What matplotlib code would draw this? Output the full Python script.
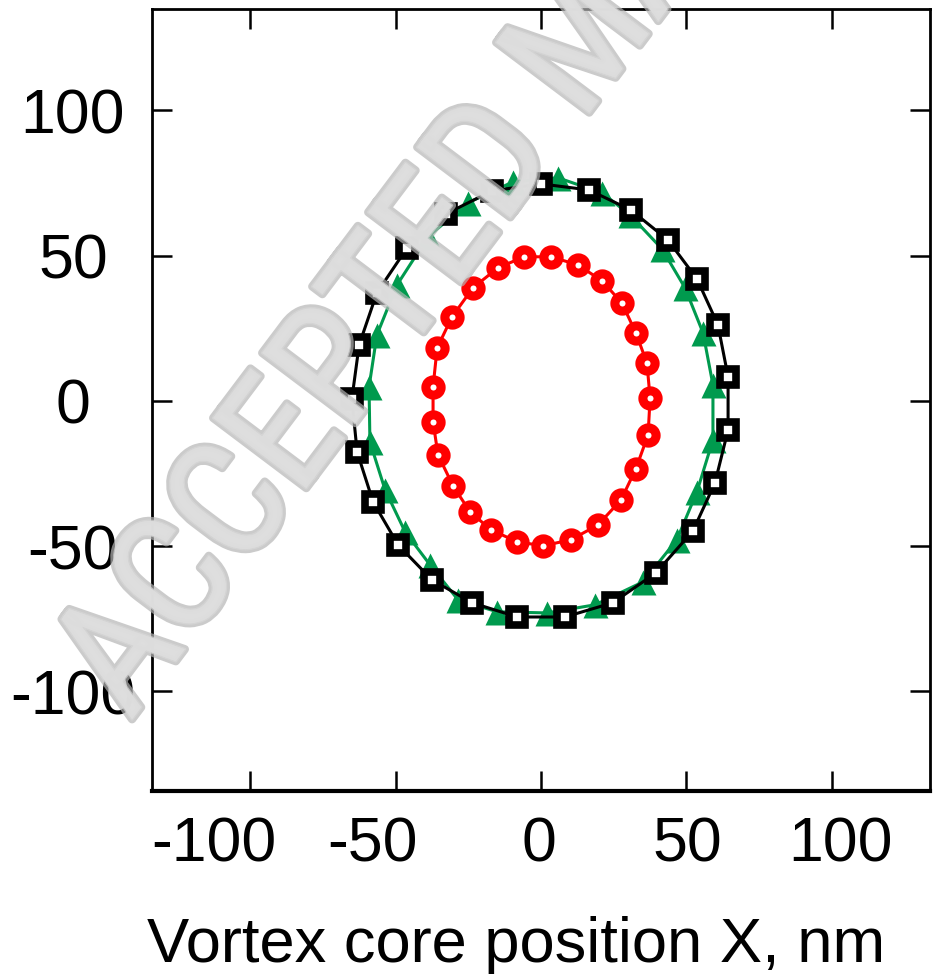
import matplotlib
matplotlib.use("Agg")
import matplotlib.pyplot as plt
import matplotlib.patheffects as pe
from matplotlib.transforms import ScaledTranslation

plt.rcParams['font.family'] = ['Liberation Sans', 'DejaVu Sans']
plt.rcParams['axes.unicode_minus'] = False

# Black squares
black_x = [0, 16.5, 30.9, 43.6, 53.6, 60.8, 64.3, 64.3, 59.8, 52.2, 39.5, 24.7, 8.2,
           -8.2, -23.7, -37.5, -49.1, -57.7, -63.2, -65.0, -62.5, -56.4, -46.0, -32.6, -16.8]
black_y = [74.7, 72.6, 65.7, 55.4, 42.0, 26.2, 8.3, -10.0, -28.2, -44.8, -59.2, -69.5, -74.4,
           -74.4, -69.5, -61.6, -49.6, -34.8, -17.6, 0.7, 19.3, 37.2, 52.7, 64.4, 72.3]

# Green triangles
green_x = [5.8, 21.0, 30.6, 41.6, 49.5, 55.7, 59.1, 59.1, 53.6, 46.7, 35.1, 18.6, 2.1,
           -15.1, -28.5, -38.1, -46.7, -53.6, -58.8, -59.1, -56.4, -49.5, -38.8, -25.1, -9.6]
green_y = [76.8, 71.6, 64.0, 52.3, 38.9, 23.4, 5.5, -13.4, -31.3, -47.8, -62.3, -70.2, -73.0,
           -72.6, -68.5, -56.5, -45.1, -30.6, -14.1, 4.8, 22.7, 39.9, 56.5, 68.2, 75.4]

# Red circles
red_x = [-5.8, 3.4, 12.7, 21.0, 27.8, 32.6, 36.4, 37.5, 36.8, 32.6, 27.5, 19.6, 10.3,
         0.7, -8.2, -17.2, -24.4, -30.2, -35.4, -37.1, -37.1, -35.7, -30.6, -23.4, -14.8]
red_y = [49.6, 49.6, 46.8, 41.3, 33.7, 23.4, 13.1, 1.0, -11.7, -23.4, -34.1, -42.7, -47.8,
         -49.9, -48.5, -44.4, -38.2, -29.3, -18.6, -7.2, 4.8, 18.2, 28.9, 38.9, 45.8]

ticks = [-100, -50, 0, 50, 100]
tick_labels = ["-100", "-50", "0", "50", "100"]
xlabel = "Vortex core position X, nm"
watermark = "ACCEPTED MANUSCRIPT"

# small horizontal nudges (pixels) of the x tick labels, as in the reference
xlabel_nudge_px = [-36, -23, -2, 1, 9]

def closed(v):
    return list(v) + [v[0]]

fig = plt.figure(figsize=(9.33, 9.74), dpi=100)
ax = fig.add_axes([152/933, 1 - 791/974, (930 - 152)/933, (791 - 9)/974])

ax.plot(closed(green_x), closed(green_y), color='#009a4e', lw=2.2, zorder=2)
ax.plot(green_x, green_y, ls='none', marker='^', ms=18, color='#009a4e', mec='none', zorder=3)

ax.plot(closed(black_x), closed(black_y), color='black', lw=2.2, zorder=4)
ax.plot(black_x, black_y, ls='none', marker='s', ms=11, mfc='white', mec='black', mew=5.5, zorder=5)

ax.plot(closed(red_x), closed(red_y), color='#ff0000', lw=2.2, zorder=4)
ax.plot(red_x, red_y, ls='none', marker='o', ms=11, mfc='white', mec='#ff0000', mew=6.5, zorder=5)

ax.set_xlim(-133.7, 133.7)
ax.set_ylim(-134.3, 134.9)
ax.set_xticks(ticks)
ax.set_xticklabels(tick_labels)
ax.set_yticks(ticks)
ax.set_yticklabels(tick_labels)

ax.tick_params(direction='in', length=14.5, width=1.8, top=True, right=True,
               labelsize=45, colors='black')
ax.tick_params(axis='x', pad=18)
ax.tick_params(axis='y', pad=57)
for lab in ax.get_yticklabels():
    lab.set_horizontalalignment('center')
for lab, dx in zip(ax.get_xticklabels(), xlabel_nudge_px):
    lab.set_transform(lab.get_transform() + ScaledTranslation(dx / 100, 0, fig.dpi_scale_trans))

for s in ax.spines.values():
    s.set_linewidth(2.0)
ax.spines['bottom'].set_linewidth(3.0)

ax.set_xlabel(xlabel, fontsize=45.5)
ax.xaxis.set_label_coords((516 - 152) / 778, (791 - 962) / 782)
ax.xaxis.label.set_verticalalignment('baseline')

fig.text(130 / 933, 1 - 722 / 974, watermark, fontsize=118, rotation=53,
         rotation_mode='anchor',
         family=['Roboto Condensed', 'Liberation Sans Narrow', 'Liberation Sans'],
         fontstretch='condensed',
         color='#dedede', alpha=0.7, ha='left', va='baseline', zorder=10,
         path_effects=[pe.withStroke(linewidth=6, foreground='#b5b5b5'),
                       pe.withStroke(linewidth=2, foreground='#d8d8d8')])

fig.savefig("out.png", dpi=100)
